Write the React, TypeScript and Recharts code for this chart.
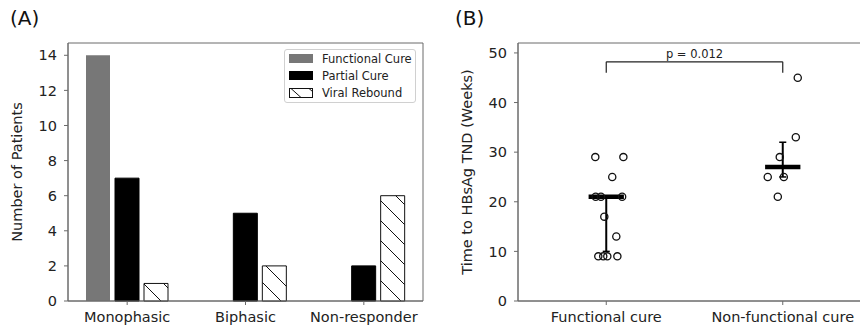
import React from 'react';
import {
  BarChart,
  Bar,
  XAxis,
  YAxis,
  Legend,
  ScatterChart,
  Scatter,
  ReferenceLine,
  ReferenceDot,
  ReferenceArea,
} from 'recharts';

// ---------- Panel A data ----------
const groups = ['Monophasic', 'Biphasic', 'Non-responder'];
const functionalCure = [14, 0, 0];
const partialCure = [7, 5, 2];
const viralRebound = [1, 2, 6];
const countTicks = [0, 2, 4, 6, 8, 10, 12, 14];
const countMax = 14.7;
const seriesNames = ['Functional Cure', 'Partial Cure', 'Viral Rebound'];

// ---------- Panel B data ----------
const outcomeCats = ['Functional cure', 'Non-functional cure'];
const functionalWeeks = [29, 29, 25, 21, 21, 21, 17, 13, 9, 9, 9, 9];
const functionalJitter = [-0.062, 0.097, 0.034, -0.06, -0.03, 0.09, -0.011, 0.057, -0.045, -0.017, 0.006, 0.063];
const nonFunctionalWeeks = [45, 33, 29, 25, 25, 21];
const nonFunctionalJitter = [0.085, 0.074, -0.017, -0.085, 0.006, -0.028];
const medians = [21, 27];
const iqrLow = [10, 25];
const iqrHigh = [21, 32];
const weekTicks = [0, 10, 20, 30, 40, 50];
const weekMax = 52;
const pValueText = 'p = 0.012';
const bracketTop = 48.2;
const bracketFoot = 46;

const FONT = 'DejaVu Sans';
const AXIS = '#6a6a6a';
const TXT = '#222';

const barData = groups.map((g, i) => ({
  group: g,
  functional: functionalCure[i],
  partial: partialCure[i],
  viral: viralRebound[i],
}));

const functionalPoints = functionalWeeks.map((w, i) => ({ x: 0 + functionalJitter[i], y: w }));
const nonFunctionalPoints = nonFunctionalWeeks.map((w, i) => ({ x: 1 + nonFunctionalJitter[i], y: w }));

const tickStyle = { fill: TXT, fontSize: 14.5, fontFamily: FONT };

const makeYLabel = (text: string) => (props: any) => {
  const vb = props.viewBox || {};
  const cx = vb.x + 11;
  const cy = vb.y + vb.height / 2;
  return (
    <text
      x={cx}
      y={cy}
      transform={`rotate(-90 ${cx} ${cy})`}
      textAnchor="middle"
      dominantBaseline="central"
      fontSize={14.5}
      fontFamily={FONT}
      fill={TXT}
    >
      {text}
    </text>
  );
};

const LegendBox = () => {
  const swatches = [
    <div key="f" style={{ width: 24, height: 9, background: '#777' }} />,
    <div key="p" style={{ width: 24, height: 9, background: '#000' }} />,
    <svg key="v" width={24} height={10} style={{ display: 'block' }}>
      <rect x={0.5} y={0.5} width={23} height={9} fill="#fff" stroke="#111" strokeWidth={1} />
      <line x1={2} y1={0.5} x2={12} y2={9.5} stroke="#111" strokeWidth={1} />
      <line x1={20} y1={0.5} x2={23.5} y2={3.5} stroke="#111" strokeWidth={1} />
    </svg>,
  ];
  return (
    <div
      style={{
        width: 132,
        height: 54,
        boxSizing: 'border-box',
        border: '1px solid #d0d0d0',
        borderRadius: 3,
        background: '#fff',
        padding: '0px 0 0 4px',
        fontFamily: FONT,
        fontSize: 11.5,
        color: TXT,
      }}
    >
      {seriesNames.map((n, i) => (
        <div key={n} style={{ display: 'flex', alignItems: 'center', height: 17 }}>
          {swatches[i]}
          <span style={{ marginLeft: 9, whiteSpace: 'nowrap' }}>{n}</span>
        </div>
      ))}
    </div>
  );
};

const Dot = (props: any) => (
  <circle cx={props.cx} cy={props.cy} r={3.6} fill="none" stroke="#111" strokeWidth={1.3} />
);

export default function App() {
  return (
    <div
      style={{
        position: 'absolute',
        left: 0,
        top: 0,
        width: 860,
        height: 326,
        overflow: 'hidden',
        background: '#fff',
      }}
    >
      <div style={{ position: 'absolute', left: 10, top: 6, fontFamily: FONT, fontSize: 20, color: '#111' }}>(A)</div>
      <div style={{ position: 'absolute', left: 455, top: 6, fontFamily: FONT, fontSize: 20, color: '#111' }}>(B)</div>

      <div style={{ position: 'absolute', left: 0, top: 0 }}>
        <BarChart
          width={430}
          height={326}
          data={barData}
          margin={{ top: 43, right: 7, bottom: 0, left: 6 }}
          barSize={24}
          barGap={5}
        >
          <defs>
            <pattern id="hatch" patternUnits="userSpaceOnUse" width={20} height={20}>
              <rect width={20} height={20} fill="#fff" />
              <path d="M0,0 L20,20 M-5,15 L5,25 M15,-5 L25,5" stroke="#111" strokeWidth={1} />
            </pattern>
          </defs>
          <XAxis
            dataKey="group"
            height={25}
            tickSize={4}
            tickMargin={7}
            stroke={AXIS}
            tick={tickStyle}
            interval={0}
          />
          <YAxis
            type="number"
            domain={[0, countMax]}
            ticks={countTicks}
            width={62}
            tickSize={4}
            tickMargin={7}
            stroke={AXIS}
            tick={tickStyle}
            label={makeYLabel('Number of Patients')}
          />
          <ReferenceArea y1={0} y2={countMax} fill="none" stroke={AXIS} strokeWidth={1} ifOverflow="visible" />
          <Bar dataKey="functional" name={seriesNames[0]} fill="#777" isAnimationActive={false} />
          <Bar dataKey="partial" name={seriesNames[1]} fill="#000" stroke="#000" isAnimationActive={false} />
          <Bar dataKey="viral" name={seriesNames[2]} fill="url(#hatch)" stroke="#111" strokeWidth={1} isAnimationActive={false} />
          <Legend
            layout="vertical"
            align="center"
            verticalAlign="middle"
            wrapperStyle={{ left: 284, top: 49, width: 132, height: 54 }}
            content={() => <LegendBox />}
          />
        </BarChart>
      </div>

      <div style={{ position: 'absolute', left: 430, top: 0 }}>
        <ScatterChart width={450} height={326} margin={{ top: 43, right: 9, bottom: 0, left: 26 }}>
          <XAxis
            type="number"
            dataKey="x"
            domain={[-0.5, 1.5]}
            ticks={[0, 1]}
            tickFormatter={(v: number) => outcomeCats[v] ?? ''}
            height={25}
            tickSize={4}
            tickMargin={7}
            stroke={AXIS}
            tick={tickStyle}
            interval={0}
            allowDataOverflow
          />
          <YAxis
            type="number"
            dataKey="y"
            domain={[0, weekMax]}
            ticks={weekTicks}
            width={62}
            tickSize={4}
            tickMargin={7}
            stroke={AXIS}
            tick={tickStyle}
            allowDataOverflow
            label={makeYLabel('Time to HBsAg TND (Weeks)')}
          />
          <ReferenceArea y1={0} y2={weekMax} fill="none" stroke={AXIS} strokeWidth={1} ifOverflow="visible" />
          {medians.map((m, i) => (
            <ReferenceLine
              key={`err${i}`}
              segment={[{ x: i, y: iqrLow[i] }, { x: i, y: iqrHigh[i] }]}
              stroke="#000"
              strokeWidth={2}
            />
          ))}
          {medians.map((m, i) => (
            <ReferenceLine
              key={`capl${i}`}
              segment={[{ x: i - 0.02, y: iqrLow[i] }, { x: i + 0.02, y: iqrLow[i] }]}
              stroke="#000"
              strokeWidth={1.5}
            />
          ))}
          {medians.map((m, i) => (
            <ReferenceLine
              key={`caph${i}`}
              segment={[{ x: i - 0.02, y: iqrHigh[i] }, { x: i + 0.02, y: iqrHigh[i] }]}
              stroke="#000"
              strokeWidth={1.5}
            />
          ))}
          {medians.map((m, i) => (
            <ReferenceLine
              key={`med${i}`}
              segment={[{ x: i - 0.1, y: m }, { x: i + 0.1, y: m }]}
              stroke="#000"
              strokeWidth={4.5}
            />
          ))}
          <ReferenceLine segment={[{ x: 0, y: bracketFoot }, { x: 0, y: bracketTop }]} stroke="#222" strokeWidth={1.2} />
          <ReferenceLine segment={[{ x: 0, y: bracketTop }, { x: 1, y: bracketTop }]} stroke="#222" strokeWidth={1.2} />
          <ReferenceLine segment={[{ x: 1, y: bracketTop }, { x: 1, y: bracketFoot }]} stroke="#222" strokeWidth={1.2} />
          <ReferenceDot
            x={0.5}
            y={bracketTop}
            r={0}
            fill="none"
            stroke="none"
            label={{ value: pValueText, position: 'top', offset: 4, fontSize: 11.5, fontFamily: FONT, fill: TXT }}
          />
          <Scatter data={functionalPoints} shape={Dot} isAnimationActive={false} />
          <Scatter data={nonFunctionalPoints} shape={Dot} isAnimationActive={false} />
        </ScatterChart>
      </div>
    </div>
  );
}
